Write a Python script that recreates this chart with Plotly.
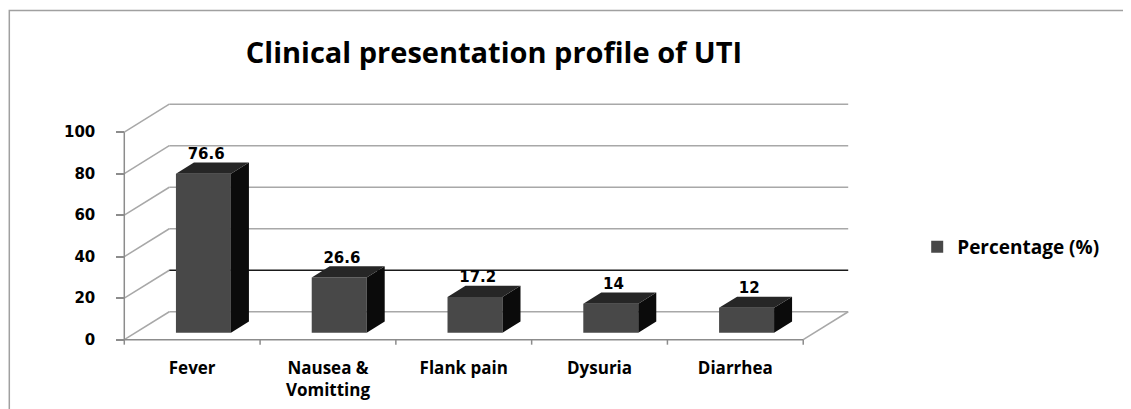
import plotly.graph_objects as go

# ---------------- data ----------------
categories = ["Fever", "Nausea &<br>Vomitting", "Flank pain", "Dysuria", "Diarrhea"]
percentages = [76.6, 26.6, 17.2, 14, 12]
value_labels = ["76.6", "26.6", "17.2", "14", "12"]
y_ticks = [0, 20, 40, 60, 80, 100]
series_name = "Percentage (%)"
chart_title = "Clinical presentation profile of UTI"

# ---------------- geometry / style ----------------
W, H = 1131, 409
BODY = 8              # default page margin of the html body
PX_X = 135.8          # px per category slot
PX_Y = 2.08           # px per value unit
FRONT_LEFT_PX = 124 - BODY   # front y-axis position
FRONT_ZERO_PX = 340 - BODY   # front zero line
DX = 45 / PX_X        # 3-D depth offset (category units)
DY = 28 / PX_Y        # 3-D depth offset (value units)
F1 = 0.25             # depth fraction of bar front face
BD = 0.40             # depth fraction taken by bar
BW = 0.405            # bar width (category units)
PAD_L = 0.12
PAD_T = 3
Y_MIN = -4

n = len(categories)
x_left = -0.5
x_right = n - 0.5
x_range = [x_left - PAD_L, x_right + DX + 0.05]
y_range = [Y_MIN, max(y_ticks) + DY + PAD_T]

plot_left = FRONT_LEFT_PX - PAD_L * PX_X
plot_w = (x_range[1] - x_range[0]) * PX_X
plot_top = FRONT_ZERO_PX - y_range[1] * PX_Y
plot_bottom = FRONT_ZERO_PX - y_range[0] * PX_Y
plot_h = plot_bottom - plot_top


def pxx(px):
    return (px - BODY - plot_left) / plot_w


def pxy(py):
    return (plot_bottom - (py - BODY)) / plot_h


FRONT_C = "#484848"
TOP_C = "#262626"
SIDE_C = "#0b0b0b"
GRID_C = "#a8a8a8"
AXIS_C = "#8c8c8c"

fig = go.Figure()

# front faces (real bars)
bar_x = [i + F1 * DX for i in range(n)]
fig.add_trace(go.Bar(
    x=bar_x, y=percentages, base=[F1 * DY] * n, width=BW,
    marker=dict(color=FRONT_C, line=dict(width=0)),
    name=series_name, showlegend=True, hoverinfo="skip",
))

# side & top faces derived from the data
sx, sy, tx, ty = [], [], [], []
for xc, v in zip(bar_x, percentages):
    x0, x1 = xc - BW / 2, xc + BW / 2
    b = F1 * DY
    t = v + b
    sx += [x1, x1 + BD * DX, x1 + BD * DX, x1, x1, None]
    sy += [b, b + BD * DY, t + BD * DY, t, b, None]
    tx += [x0, x0 + BD * DX, x1 + BD * DX, x1, x0, None]
    ty += [t, t + BD * DY, t + BD * DY, t, t, None]
fig.add_trace(go.Scatter(x=sx, y=sy, mode="lines", fill="toself", fillcolor=SIDE_C,
                         line=dict(width=0, color=SIDE_C), showlegend=False, hoverinfo="skip"))
fig.add_trace(go.Scatter(x=tx, y=ty, mode="lines", fill="toself", fillcolor=TOP_C,
                         line=dict(width=0, color=TOP_C), showlegend=False, hoverinfo="skip"))

# value labels
fig.add_trace(go.Scatter(
    x=[xc + 0.02 for xc in bar_x],
    y=[v + F1 * DY + BD * DY for v in percentages],
    mode="text", text=value_labels, textposition="top center",
    textfont=dict(family="DejaVu Sans", size=15, color="#000000", weight=700),
    showlegend=False, hoverinfo="skip", cliponaxis=False,
))

shapes = []
# back wall gridlines + left diagonals
for v in y_ticks:
    shapes.append(dict(type="line", xref="x", yref="y", x0=x_left, y0=v,
                       x1=x_left + DX, y1=v + DY, layer="below",
                       line=dict(color=GRID_C, width=1.5)))
    shapes.append(dict(type="line", xref="x", yref="y", x0=x_left + DX, y0=v + DY,
                       x1=x_right + DX, y1=v + DY, layer="below",
                       line=dict(color="#1a1a1a" if v == 20 else GRID_C, width=1.5)))
# floor right diagonal
shapes.append(dict(type="line", xref="x", yref="y", x0=x_right, y0=0,
                   x1=x_right + DX, y1=DY, layer="below", line=dict(color=GRID_C, width=1.5)))
# front axes
shapes.append(dict(type="line", xref="x", yref="y", x0=x_left, y0=0, x1=x_left,
                   y1=max(y_ticks), layer="below", line=dict(color=AXIS_C, width=1.5)))
shapes.append(dict(type="line", xref="x", yref="y", x0=x_left, y0=0, x1=x_right,
                   y1=0, layer="below", line=dict(color=AXIS_C, width=1.5)))
for k in range(n + 1):
    shapes.append(dict(type="line", xref="x", yref="y", x0=x_left + k, y0=0,
                       x1=x_left + k, y1=-5 / PX_Y, layer="below",
                       line=dict(color=AXIS_C, width=1.5)))
# outer chart border
shapes.append(dict(type="rect", xref="paper", yref="paper",
                   x0=pxx(9), y0=pxy(H + 40), x1=pxx(W + 40), y1=pxy(10),
                   line=dict(color="#a0a0a0", width=1.5), fillcolor="rgba(0,0,0,0)",
                   layer="below"))

fig.update_layout(
    width=W, height=H,
    margin=dict(l=plot_left, r=W - plot_left - plot_w, t=plot_top, b=H - plot_bottom, pad=0,
                autoexpand=False),
    paper_bgcolor="white", plot_bgcolor="rgba(0,0,0,0)",
    title=dict(text=chart_title, x=(494 - BODY) / W, xref="container", xanchor="center",
               y=1 - (53 - BODY) / H, yref="container", yanchor="middle",
               font=dict(family="Open Sans", size=29, color="#000000", weight=700)),
    xaxis=dict(range=x_range, tickmode="array", tickvals=list(range(n)), ticktext=categories,
               ticks="", showgrid=False, zeroline=False, showline=False, automargin=False,
               ticklabelstandoff=8,
               tickfont=dict(family="Open Sans", size=17, color="#000000", weight=700)),
    yaxis=dict(range=y_range, tickmode="array", tickvals=y_ticks,
               ticks="outside", ticklen=8, tickwidth=1.5, tickcolor=AXIS_C,
               showgrid=False, zeroline=False, showline=False, automargin=False,
               anchor="free", position=pxx(FRONT_LEFT_PX + BODY), ticklabelstandoff=18,
               tickfont=dict(family="DejaVu Sans", size=15, color="#000000", weight=700)),
    legend=dict(x=pxx(917), y=pxy(247), xanchor="left", yanchor="middle",
                font=dict(family="Open Sans", size=19, color="#000000", weight=700),
                bgcolor="rgba(0,0,0,0)", itemwidth=30),
    shapes=shapes,
    showlegend=True,
)

fig.write_html("out.html")
